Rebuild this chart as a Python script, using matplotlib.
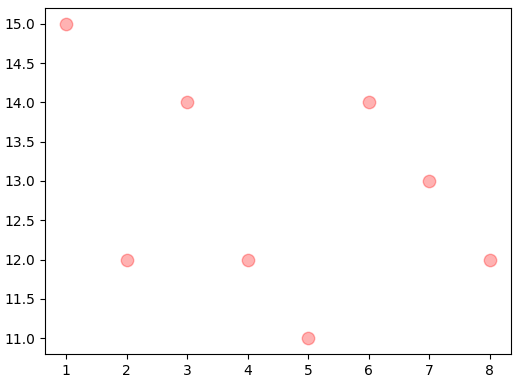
import matplotlib
matplotlib.use("Agg")
import matplotlib.pyplot as plt

x = [1, 2, 3, 4, 5, 6, 7, 8]
y = [15, 12, 14, 12, 11, 14, 13, 12]

fig = plt.figure(figsize=(5.19, 3.84), dpi=100)
ax = fig.add_axes([45/519, 30/384, 466/519, 346/384])
ax.scatter(x, y, s=80, color='red', alpha=0.3)
fig.savefig("out.png", dpi=100)
